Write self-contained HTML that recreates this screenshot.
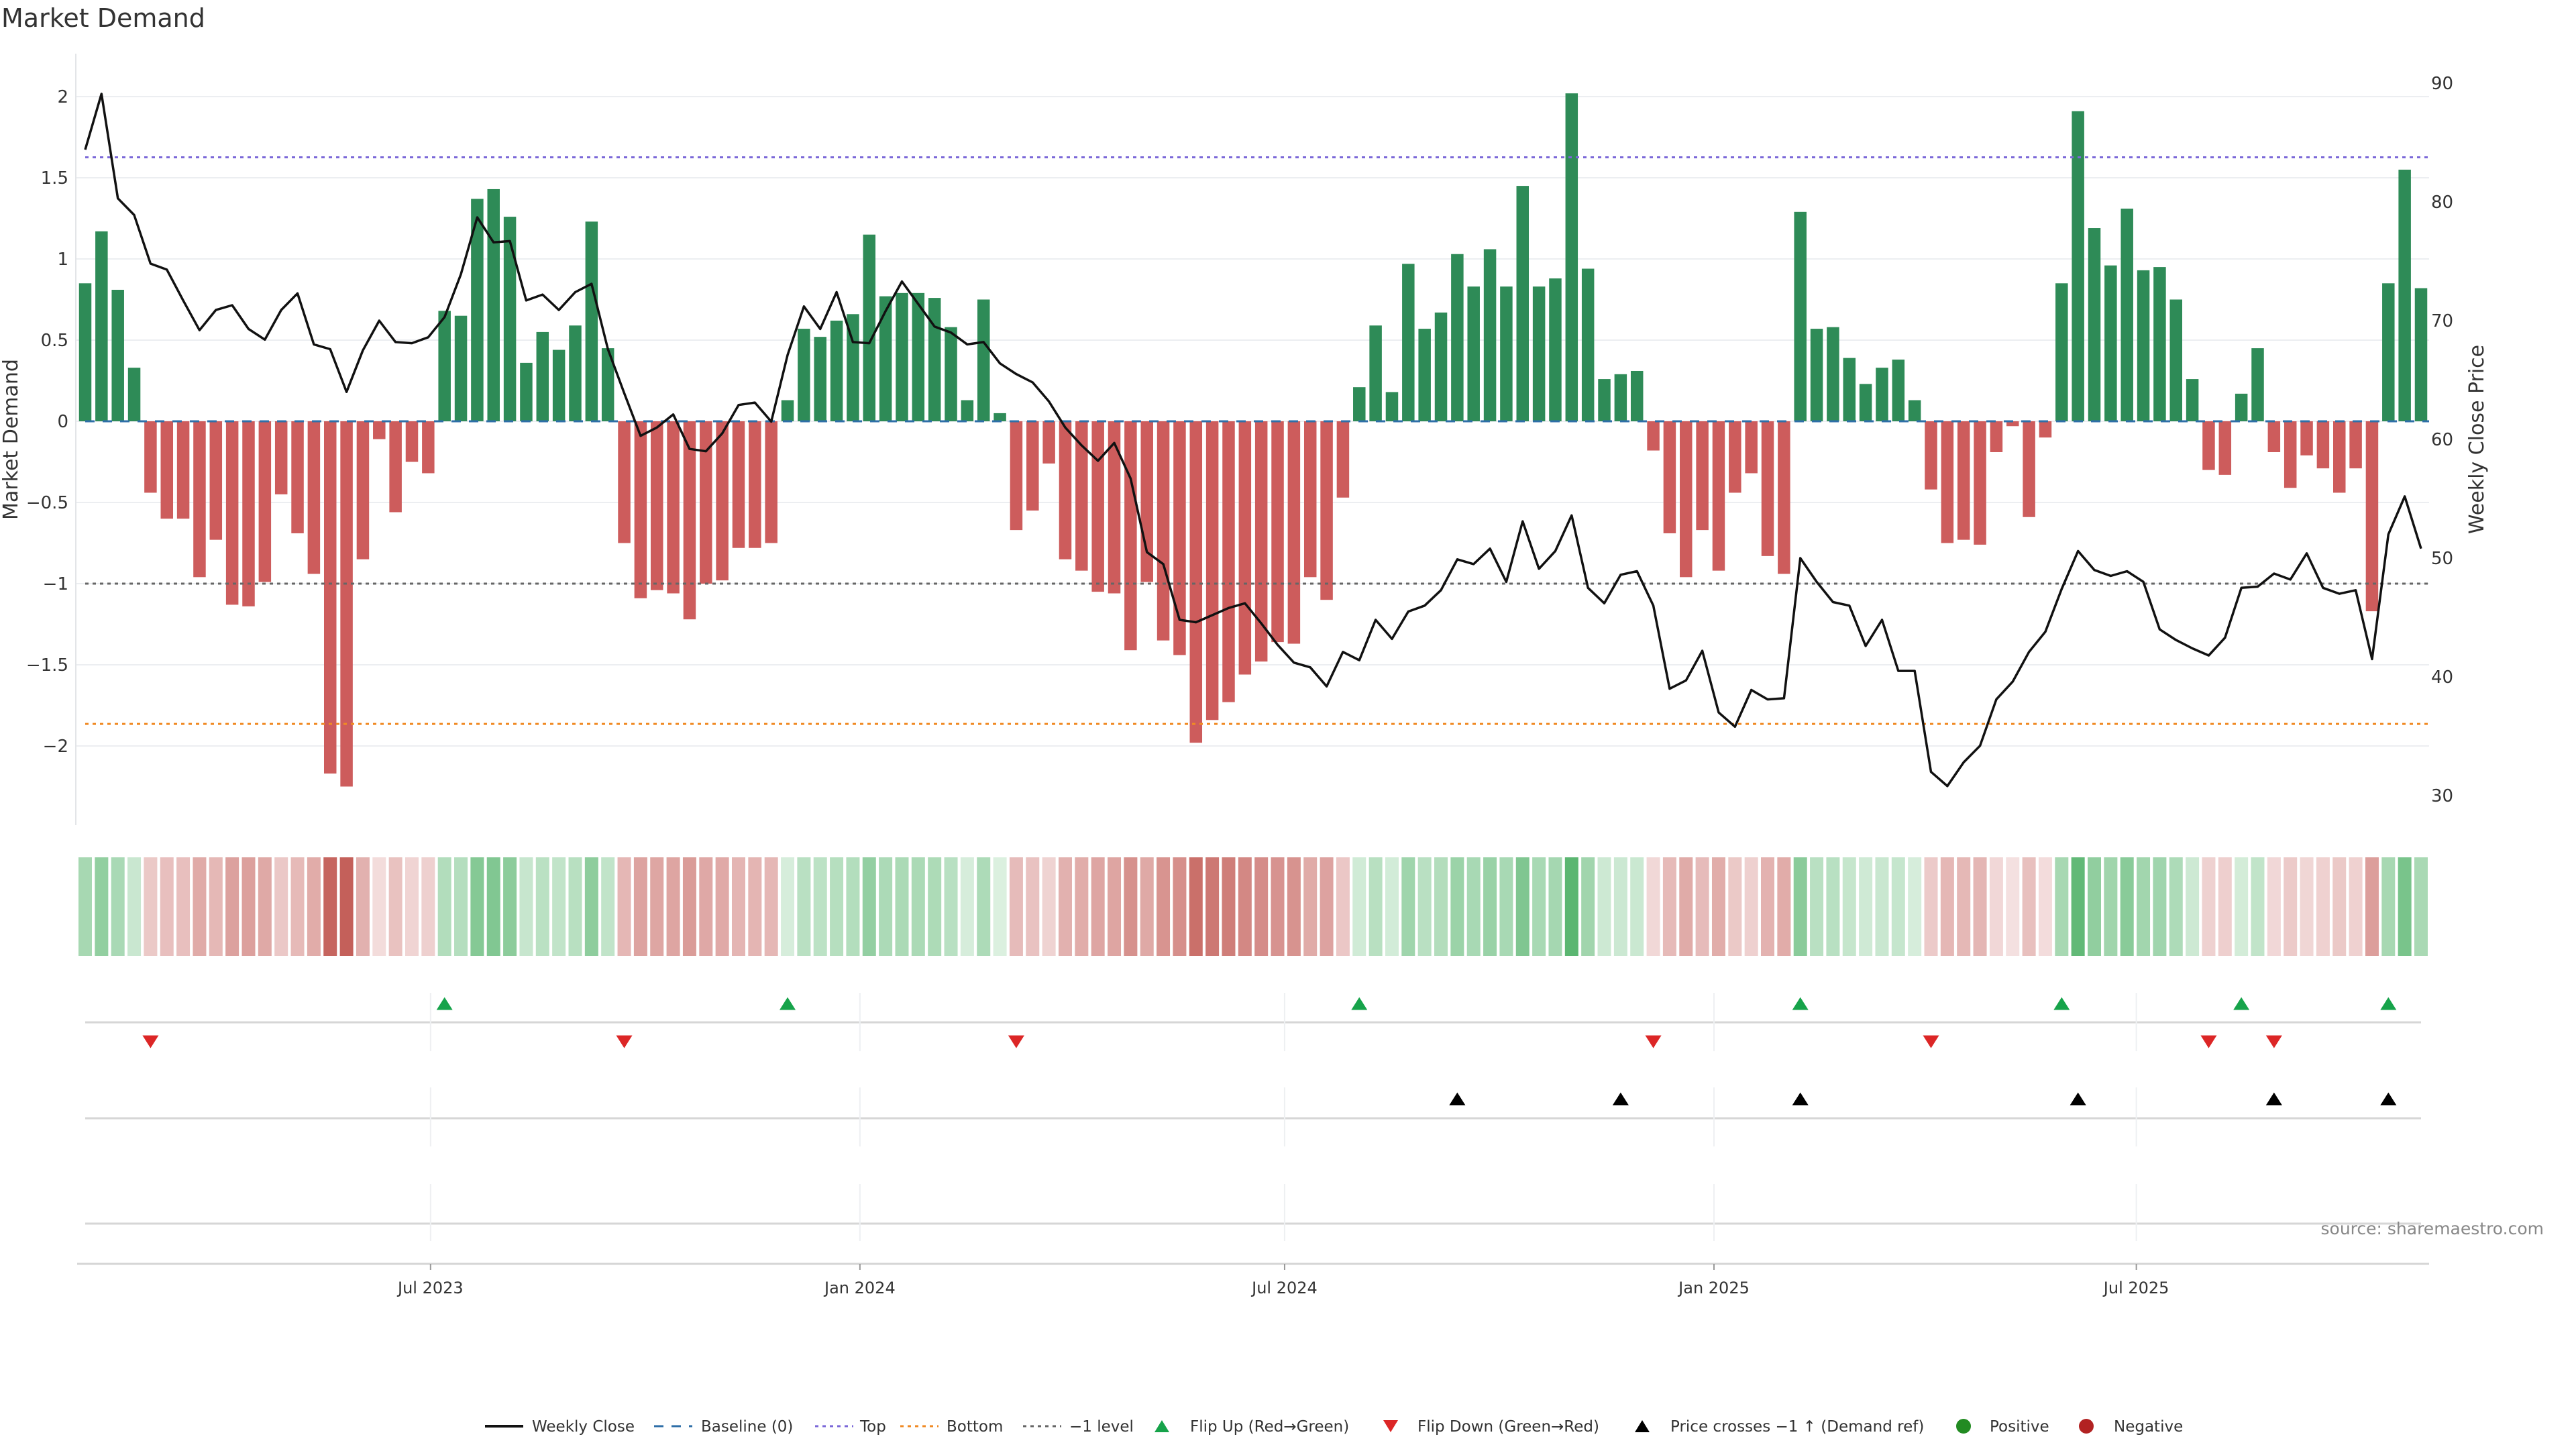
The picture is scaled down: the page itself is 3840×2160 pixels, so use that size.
<!DOCTYPE html>
<html><head><meta charset="utf-8"><style>
html,body{margin:0;padding:0;background:#fff;}
svg{display:block;font-family:"DejaVu Sans","Liberation Sans",sans-serif;}
</style></head><body>
<svg id="chart" width="3840" height="2160" viewBox="0 0 3840 2160" xmlns="http://www.w3.org/2000/svg">
<text x="2" y="40" font-size="38" fill="#333">Market Demand</text>
<g id="grid"></g>
<g id="bars"></g>
<g id="refs"></g>
<g id="line"></g>
<g id="axes"></g>
<g id="heat"></g>
<g id="marks"></g>
<text transform="translate(26,655) rotate(-90)" text-anchor="middle" font-size="30" fill="#333">Market Demand</text>
<text transform="translate(3702,655) rotate(-90)" text-anchor="middle" font-size="30" fill="#333">Weekly Close Price</text>
<text x="3792" y="1840" text-anchor="end" font-size="25" fill="#888">source: sharemaestro.com</text>
<g id="legend"></g>
</svg>
<script>
const demand = [0.85,1.17,0.81,0.33,-0.44,-0.60,-0.60,-0.96,-0.73,-1.13,-1.14,-0.99,-0.45,-0.69,-0.94,-2.17,-2.25,-0.85,-0.11,-0.56,-0.25,-0.32,0.68,0.65,1.37,1.43,1.26,0.36,0.55,0.44,0.59,1.23,0.45,-0.75,-1.09,-1.04,-1.06,-1.22,-1.00,-0.98,-0.78,-0.78,-0.75,0.13,0.57,0.52,0.62,0.66,1.15,0.77,0.79,0.79,0.76,0.58,0.13,0.75,0.05,-0.67,-0.55,-0.26,-0.85,-0.92,-1.05,-1.06,-1.41,-0.99,-1.35,-1.44,-1.98,-1.84,-1.73,-1.56,-1.48,-1.36,-1.37,-0.96,-1.10,-0.47,0.21,0.59,0.18,0.97,0.57,0.67,1.03,0.83,1.06,0.83,1.45,0.83,0.88,2.02,0.94,0.26,0.29,0.31,-0.18,-0.69,-0.96,-0.67,-0.92,-0.44,-0.32,-0.83,-0.94,1.29,0.57,0.58,0.39,0.23,0.33,0.38,0.13,-0.42,-0.75,-0.73,-0.76,-0.19,-0.03,-0.59,-0.10,0.85,1.91,1.19,0.96,1.31,0.93,0.95,0.75,0.26,-0.30,-0.33,0.17,0.45,-0.19,-0.41,-0.21,-0.29,-0.44,-0.29,-1.17,0.85,1.55,0.82];
const closePrice = [84.4,89.1,80.3,78.9,74.8,74.3,71.7,69.2,70.9,71.3,69.3,68.4,70.9,72.3,68.0,67.6,64.0,67.5,70.0,68.2,68.1,68.6,70.3,73.9,78.7,76.6,76.7,71.7,72.2,70.9,72.4,73.1,67.6,63.9,60.3,61.0,62.1,59.2,59.0,60.5,62.9,63.1,61.5,67.1,71.2,69.3,72.4,68.2,68.1,70.8,73.3,71.4,69.5,69.0,68.0,68.2,66.4,65.5,64.8,63.2,61.0,59.5,58.2,59.7,56.7,50.5,49.5,44.8,44.6,45.2,45.8,46.2,44.5,42.7,41.2,40.8,39.2,42.1,41.4,44.8,43.2,45.5,46.0,47.3,49.9,49.5,50.8,48.0,53.1,49.1,50.6,53.6,47.5,46.2,48.6,48.9,46.0,39.0,39.7,42.2,37.0,35.8,38.9,38.1,38.2,50.0,48.0,46.3,46.0,42.6,44.8,40.5,40.5,32.0,30.8,32.8,34.2,38.1,39.6,42.1,43.8,47.4,50.6,49.0,48.5,48.9,48.0,44.0,43.1,42.4,41.8,43.3,47.5,47.6,48.7,48.2,50.4,47.5,47.0,47.3,41.5,52.0,55.2,50.8];
const startDate = "2023-02-03";
const leftTicks = [2,1.5,1,0.5,0,-0.5,-1,-1.5,-2];
const leftTickLabels = ["2","1.5","1","0.5","0","\u22120.5","\u22121","\u22121.5","\u22122"];
const rightTicks = [90,80,70,60,50,40,30];
const dateTicks = ["2023-07-01","2024-01-01","2024-07-01","2025-01-01","2025-07-01"];
const dateTickLabels = ["Jul 2023","Jan 2024","Jul 2024","Jan 2025","Jul 2025"];
const topLevel = 1.626, bottomLevel = -1.864, minusLevel = -1;
const demandRefPrice = 47.8;

const NS="http://www.w3.org/2000/svg";
function mk(tag, attrs, parent){const e=document.createElementNS(NS,tag);for(const k in attrs)e.setAttribute(k,attrs[k]);parent.appendChild(e);return e;}
const DAY=86400000, t0=Date.parse(startDate);
const dates = demand.map((_,i)=>t0+i*7*DAY);
const n=demand.length;
const X0=127, X1=3609;
const tEnd=dates[n-1];
function xDate(t){return X0+(t-t0)/(tEnd-t0)*(X1-X0);}
function xi(i){return xDate(dates[i]);}
function yL(v){return 628-v*242;}
function yR(p){return 655-(p-60)*17.7;}
const PL=113, PR=3621;

const grid=document.getElementById('grid');
leftTicks.forEach((v,i)=>{
  const l=mk('line',{x1:PL,x2:PR,y1:yL(v),y2:yL(v),stroke:'#eceef1','stroke-width':2},grid);
  
  
});
const axes=document.getElementById('axes');
const al=mk('line',{x1:PL,x2:PL,y1:80,y2:1230,stroke:'#e3e5e8','stroke-width':2},axes);


leftTicks.forEach((v,i)=>{
  const t=mk('text',{x:102,y:yL(v)+9,'text-anchor':'end','font-size':26,fill:'#333'},axes);
  t.textContent=leftTickLabels[i];
  
  
});
rightTicks.forEach(p=>{
  const t=mk('text',{x:3624,y:yR(p)+9,'font-size':26,fill:'#333'},axes);
  t.textContent=String(p);
  
  
});

const bars=document.getElementById('bars');
const bw=18.5;
demand.forEach((v,i)=>{
  const y=Math.min(yL(v),yL(0)), h=Math.abs(yL(v)-yL(0));
  const r=mk('rect',{x:xi(i)-bw/2,y:y,width:bw,height:h,fill:v>=0?'#2e8b57':'#cd5c5c'},bars);
  
  
});

const refs=document.getElementById('refs');
function hline(v,color,dash,name){
  const l=mk('line',{x1:127,x2:PR,y1:yL(v),y2:yL(v),stroke:color,'stroke-width':3,'stroke-dasharray':dash},refs);
  
  
}
hline(0,'#2f6fa8','14 12','baseline-zero');
hline(topLevel,'#7b68d8','5 6','top-level-line');
hline(bottomLevel,'#f08a24','5 6','bottom-level-line');
hline(minusLevel,'#666','5 6','minus-one-level-line');

const lineG=document.getElementById('line');
const pts=closePrice.map((p,i)=>xi(i).toFixed(1)+','+yR(p).toFixed(1)).join(' ');
const pl=mk('polyline',{points:pts,fill:'none',stroke:'#111','stroke-width':3.5,'stroke-linejoin':'round'},lineG);



const heat=document.getElementById('heat');
const maxAbs=2.25;
demand.forEach((v,i)=>{
  const t=Math.min(1,Math.abs(v)/maxAbs);
  let c;
  if(v>=0){c=[222-146*t,241-66*t,226-126*t];}else{c=[245-49*t,226-130*t,226-136*t];}
  const r=mk('rect',{x:xi(i)-10,y:1278,width:20,height:147,fill:'rgb('+c.map(Math.round).join(',')+')'},heat);
  
  
});

const marks=document.getElementById('marks');
[[1524,1480,1567],[1667,1621,1709],[1824,1765,1850]].forEach(([ly,s0,s1])=>{
  const l=mk('line',{x1:127,x2:3609,y1:ly,y2:ly,stroke:'#d6d6d6','stroke-width':3},marks);
  
  
  dateTicks.forEach(d=>{
    const x=xDate(Date.parse(d));
    const g=mk('line',{x1:x,x2:x,y1:s0,y2:s1,stroke:'#eef0f2','stroke-width':2},marks);
    
    
  });
});
const xa=mk('line',{x1:115,x2:PR,y1:1884,y2:1884,stroke:'#d6d6d6','stroke-width':3},axes);


dateTicks.forEach((d,i)=>{
  const x=xDate(Date.parse(d));
  const tk=mk('line',{x1:x,x2:x,y1:1884,y2:1893,stroke:'#999','stroke-width':2},axes);
  
  
  const t=mk('text',{x:x,y:1928,'text-anchor':'middle','font-size':24,fill:'#333'},axes);
  t.textContent=dateTickLabels[i];
  
  
});
function tri(x,y,up,color,name){
  const s=12,h=19;
  const p=up?`${x-s},${y+h/2} ${x+s},${y+h/2} ${x},${y-h/2}`:`${x-s},${y-h/2} ${x+s},${y-h/2} ${x},${y+h/2}`;
  const e=mk('polygon',{points:p,fill:color},marks);
  
  
}
for(let i=1;i<n;i++){
  if(demand[i-1]<0&&demand[i]>=0) tri(xi(i),1496,true,'#16a34a','flip-up-marker');
  if(demand[i-1]>=0&&demand[i]<0) tri(xi(i),1553,false,'#dc2626','flip-down-marker');
  if(closePrice[i-1]<demandRefPrice&&closePrice[i]>=demandRefPrice) tri(xi(i),1638,true,'#000','price-cross-marker');
}

const lg=document.getElementById('legend');
const LY=2126;
function legText(x,s){const t=mk('text',{x:x,y:LY+8,'font-size':23,fill:'#333'},lg);t.textContent=s;}
function legLine(x,color,dash,w){const l=mk('line',{x1:x,x2:x+57,y1:LY,y2:LY,stroke:color,'stroke-width':w,'stroke-dasharray':dash},lg);}
legLine(723,'#111','none',4);legText(793,'Weekly Close');
legLine(975,'#2f6fa8','14 12',3);legText(1045,'Baseline (0)');
legLine(1215,'#7b68d8','5 6',3);legText(1282,'Top');
legLine(1342,'#f08a24','5 6',3);legText(1411,'Bottom');
legLine(1525,'#666','5 6',3);legText(1594,'\u22121 level');
function legTri(x,up,color){const s=11,h=18;const p=up?`${x-s},${LY+h/2} ${x+s},${LY+h/2} ${x},${LY-h/2}`:`${x-s},${LY-h/2} ${x+s},${LY-h/2} ${x},${LY+h/2}`;const e=mk('polygon',{points:p,fill:color},lg);}
legTri(1732,true,'#16a34a');legText(1774,'Flip Up (Red\u2192Green)');
legTri(2073,false,'#dc2626');legText(2113,'Flip Down (Green\u2192Red)');
legTri(2448,true,'#000');legText(2490,'Price crosses \u22121 \u2191 (Demand ref)');
const c1=mk('circle',{cx:2927,cy:LY,r:11,fill:'#228b22'},lg);
legText(2966,'Positive');
const c2=mk('circle',{cx:3110,cy:LY,r:11,fill:'#b22222'},lg);
legText(3151,'Negative');
</script>
</body></html>
